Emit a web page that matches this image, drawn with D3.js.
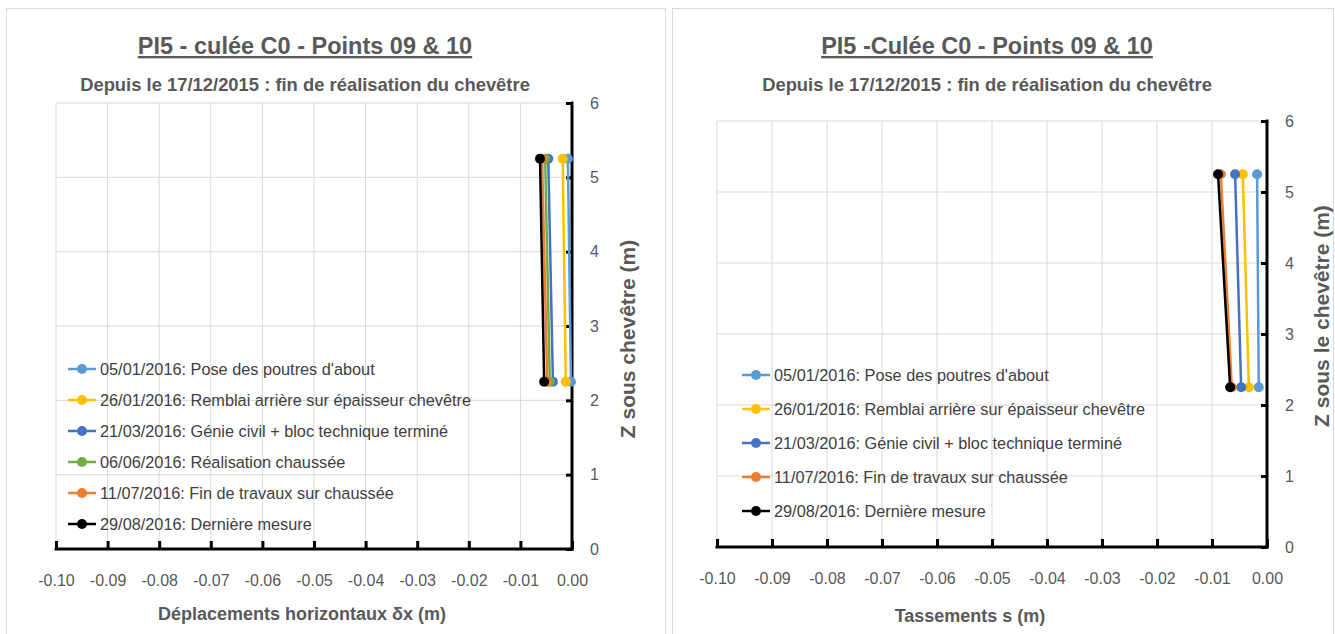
<!DOCTYPE html>
<html>
<head>
<meta charset="utf-8">
<script src="https://cdn.jsdelivr.net/npm/d3@7"></script>
<style>
  body { margin: 0; background: #fff; }
  text { font-family: "Liberation Sans", Arial, sans-serif; }
</style>
</head>
<body>
<div id="chart"></div>
<script>
const width = 1335,
  height = 634;

// Z levels of the two measured points (m)
const zLevels = [5.25, 2.25];

// left chart: horizontal displacements dx (m)
const leftLegend = [
  "05/01/2016: Pose des poutres d'about",
  "26/01/2016: Remblai arrière sur épaisseur chevêtre",
  "21/03/2016: Génie civil + bloc technique terminé",
  "06/06/2016: Réalisation chaussée",
  "11/07/2016: Fin de travaux sur chaussée",
  "29/08/2016: Dernière mesure"
];
const leftTop = [-0.0008, -0.0018, -0.0046, -0.0052, -0.0058, -0.0062];
const leftBottom = [-0.0002, -0.0012, -0.0037, -0.0043, -0.0048, -0.0054];

// right chart: settlements s (m)
const rightLegend = [
  "05/01/2016: Pose des poutres d'about",
  "26/01/2016: Remblai arrière sur épaisseur chevêtre",
  "21/03/2016: Génie civil + bloc technique terminé",
  "11/07/2016: Fin de travaux sur chaussée",
  "29/08/2016: Dernière mesure"
];
const rightTop = [-0.0018, -0.0044, -0.0058, -0.0084, -0.0089];
const rightBottom = [-0.0015, -0.0033, -0.0047, -0.0064, -0.0067];

const xTicks = [-0.10, -0.09, -0.08, -0.07, -0.06, -0.05, -0.04, -0.03, -0.02, -0.01, 0.00];
const yTicks = [0, 1, 2, 3, 4, 5, 6];

const leftColors = ['#5B9BD5', '#FFC000', '#4472C4', '#70AD47', '#ED7D31', '#000000'];
const rightColors = ['#5B9BD5', '#FFC000', '#4472C4', '#ED7D31', '#000000'];

const svg = d3.select('#chart').append('svg')
  .attr('width', width)
  .attr('height', height);

function drawChart(opt) {
  const g = svg.append('g');

  g.append('rect')
    .attr('x', opt.box[0] + 0.5).attr('y', opt.box[1] + 0.5)
    .attr('width', opt.box[2]).attr('height', opt.box[3])
    .attr('fill', '#fff').attr('stroke', '#d9d9d9');

  const x = d3.scaleLinear().domain([-0.10, 0]).range(opt.xr);
  const y = d3.scaleLinear().domain([0, 6]).range(opt.yr);

  // grid
  g.append('g').selectAll('line.v')
    .data(xTicks.slice(0, -1))
    .enter().append('line')
    .attr('x1', d => x(d)).attr('x2', d => x(d))
    .attr('y1', y(6)).attr('y2', y(0))
    .attr('stroke', '#d9d9d9');
  g.append('g').selectAll('line.h')
    .data(yTicks.slice(1))
    .enter().append('line')
    .attr('x1', x(-0.10)).attr('x2', x(0))
    .attr('y1', d => y(d)).attr('y2', d => y(d))
    .attr('stroke', '#d9d9d9');

  // axes (ticks inside, labels outside)
  const xAxis = g.append('g')
    .attr('transform', `translate(0,${y(0)})`)
    .call(d3.axisBottom(x).tickValues(xTicks).tickSize(-8).tickPadding(26)
      .tickFormat(d => d.toFixed(2)));
  const yAxis = g.append('g')
    .attr('transform', `translate(${x(0)},0)`)
    .call(d3.axisRight(y).tickValues(yTicks).tickSize(-6).tickPadding(18)
      .tickFormat(d3.format('d')));
  [xAxis, yAxis].forEach(a => {
    a.select('.domain').attr('stroke', '#000').attr('stroke-width', 3);
    a.selectAll('.tick line').attr('stroke', '#000').attr('stroke-width', 3);
    a.selectAll('.tick text')
      .attr('fill', '#595959')
      .style('font-size', '16px');
  });
  xAxis.select('.domain').attr('d', `M${x(-0.10)},-1V0H${x(0)}V-1`);
  yAxis.select('.domain').attr('d', `M-1,${y(6)}H0V${y(0)}H-1`);

  // series
  opt.top.forEach((v, i) => {
    const pts = [[v, zLevels[0]], [opt.bottom[i], zLevels[1]]];
    g.append('path')
      .datum(pts)
      .attr('fill', 'none')
      .attr('stroke', opt.colors[i])
      .attr('stroke-width', 2.5)
      .attr('d', d3.line().x(d => x(d[0])).y(d => y(d[1])));
    g.selectAll(null)
      .data(pts)
      .enter().append('circle')
      .attr('cx', d => x(d[0]))
      .attr('cy', d => y(d[1]))
      .attr('r', 5)
      .attr('fill', opt.colors[i]);
  });

  // legend
  const leg = g.append('g');
  opt.legend.forEach((label, i) => {
    const ly = opt.legendY + i * opt.legendStep;
    leg.append('line')
      .attr('x1', opt.legendX).attr('x2', opt.legendX + 28)
      .attr('y1', ly).attr('y2', ly)
      .attr('stroke', opt.colors[i]).attr('stroke-width', 2.5);
    leg.append('circle')
      .attr('cx', opt.legendX + 14).attr('cy', ly).attr('r', 5)
      .attr('fill', opt.colors[i]);
    leg.append('text')
      .attr('x', opt.legendX + 32).attr('y', ly)
      .attr('dy', '0.35em')
      .attr('fill', '#404040')
      .style('font-size', '16.3px')
      .text(label);
  });

  // titles
  g.append('text')
    .attr('x', opt.titleX).attr('y', opt.titleY)
    .attr('text-anchor', 'middle')
    .attr('fill', '#595959')
    .style('font-size', '23.5px')
    .style('font-weight', 'bold')
    .style('text-decoration', 'underline')
    .text(opt.title);
  g.append('text')
    .attr('x', opt.titleX).attr('y', opt.titleY + 37)
    .attr('text-anchor', 'middle')
    .attr('fill', '#595959')
    .style('font-size', '18.4px')
    .style('font-weight', 'bold')
    .text('Depuis le 17/12/2015 : fin de réalisation du chevêtre');

  g.append('text')
    .attr('x', opt.xLabelX).attr('y', opt.xLabelY)
    .attr('text-anchor', 'middle')
    .attr('fill', '#595959')
    .style('font-size', '18px')
    .style('font-weight', 'bold')
    .text(opt.xLabel);

  g.append('text')
    .attr('transform', `translate(${opt.yLabelX},${opt.yLabelY}) rotate(-90)`)
    .attr('text-anchor', 'middle')
    .attr('fill', '#595959')
    .style('font-size', '21px')
    .style('font-weight', 'bold')
    .text(opt.yLabel);
}

drawChart({
  box: [6, 8, 659, 640],
  xr: [56, 572],
  yr: [549, 103],
  top: leftTop,
  bottom: leftBottom,
  colors: leftColors,
  legend: leftLegend,
  legendX: 68, legendY: 369, legendStep: 31,
  title: 'PI5 - culée C0 - Points 09 & 10',
  titleX: 305, titleY: 54,
  xLabel: 'Déplacements horizontaux δx (m)',
  xLabelX: 302, xLabelY: 620,
  yLabel: 'Z sous chevêtre (m)',
  yLabelX: 635, yLabelY: 339
});

drawChart({
  box: [672, 8, 661, 640],
  xr: [717, 1267],
  yr: [547, 121],
  top: rightTop,
  bottom: rightBottom,
  colors: rightColors,
  legend: rightLegend,
  legendX: 742, legendY: 375, legendStep: 34,
  title: 'PI5 -Culée C0 - Points 09 & 10',
  titleX: 987, titleY: 54,
  xLabel: 'Tassements s (m)',
  xLabelX: 970, xLabelY: 622,
  yLabel: 'Z sous le chevêtre (m)',
  yLabelX: 1329, yLabelY: 316
});
</script>
</body>
</html>
